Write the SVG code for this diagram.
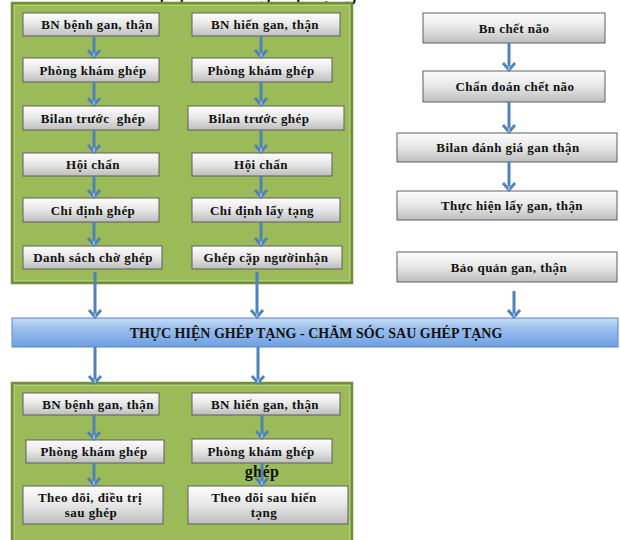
<svg xmlns="http://www.w3.org/2000/svg" width="620" height="540" viewBox="0 0 620 540">
<style>
.panel{fill:#9bbb59;stroke:#718c3a;stroke-width:2.5}
.pin{fill:none;stroke:#b3cc7c;stroke-width:1}
.box{fill:url(#gb);stroke:#5e5e5e;stroke-width:1}
.t{font-family:"Liberation Serif","Times New Roman",serif;font-weight:bold;font-size:13px;letter-spacing:0.45px;fill:#111;text-anchor:middle}
.bt{font-family:"Liberation Serif","Times New Roman",serif;font-weight:bold;font-size:14px;fill:#111;text-anchor:middle}
.ttl{font-family:"Liberation Sans",Arial,sans-serif;font-size:22px;fill:#000}
.c{fill:none;stroke:#4f81bd;stroke-width:3;marker-end:url(#ah)}
</style>
<defs>
<linearGradient id="gb" x1="0" y1="0" x2="0" y2="1">
<stop offset="0" stop-color="#fdfdfd"/>
<stop offset="0.5" stop-color="#e6e6e6"/>
<stop offset="1" stop-color="#bdbdbd"/>
</linearGradient>
<linearGradient id="bar" x1="0" y1="0" x2="0" y2="1">
<stop offset="0" stop-color="#c6dbf5"/>
<stop offset="0.35" stop-color="#9cc0ee"/>
<stop offset="1" stop-color="#6e9fe2"/>
</linearGradient>
<marker id="ah" viewBox="-10 -8 12 16" markerWidth="12" markerHeight="16" refX="0" refY="0" orient="auto" markerUnits="userSpaceOnUse">
<path d="M-7,-6 L0,0 L-7,6" fill="none" stroke="#4f81bd" stroke-width="2.8" stroke-linejoin="miter"/>
<path d="M-4,0 L0,0" stroke="#a9c4e6" stroke-width="1.5"/>
</marker>
</defs>
<rect width="620" height="540" fill="#ffffff"/>
<text class="ttl" y="0"><tspan x="152">quy trình</tspan><tspan x="259">ghép tạng</tspan></text>

<g id="panel-top">
<rect class="panel" x="12" y="3" width="340" height="280"/>
<rect class="pin" x="14.5" y="5.5" width="335" height="275"/>
</g>
<g id="panel-bottom">
<rect class="panel" x="12" y="383" width="340" height="170"/>
<rect class="pin" x="14.5" y="385.5" width="335" height="170"/>
</g>

<g id="n-l1"><rect class="box" x="23" y="13" width="136" height="23"/><text class="t" x="97" y="29">BN bệnh gan, thận</text></g>
<g id="n-l2"><rect class="box" x="23" y="58" width="136" height="24"/><text class="t" x="93" y="74.5">Phòng khám ghép</text></g>
<g id="n-l3"><rect class="box" x="23" y="106" width="136" height="24"/><text class="t" x="93" y="122.5">Bilan trước&#160; ghép</text></g>
<g id="n-l4"><rect class="box" x="23" y="153" width="136" height="23"/><text class="t" x="93" y="169">Hội chẩn</text></g>
<g id="n-l5"><rect class="box" x="23" y="198" width="136" height="24"/><text class="t" x="93" y="214.5">Chỉ định ghép</text></g>
<g id="n-l6"><rect class="box" x="23" y="246" width="139" height="23"/><text class="t" x="93" y="262">Danh sách chờ ghép</text></g>

<g id="n-r1"><rect class="box" x="192" y="13" width="148" height="23"/><text class="t" x="265" y="29">BN hiến gan, thận</text></g>
<g id="n-r2"><rect class="box" x="192" y="58" width="140" height="24"/><text class="t" x="261" y="74.5">Phòng khám ghép</text></g>
<g id="n-r3"><rect class="box" x="188" y="106" width="156" height="24"/><text class="t" x="259" y="122.5">Bilan trước ghép</text></g>
<g id="n-r4"><rect class="box" x="192" y="153" width="140" height="23"/><text class="t" x="261" y="169">Hội chẩn</text></g>
<g id="n-r5"><rect class="box" x="192" y="198" width="148" height="24"/><text class="t" x="262" y="214.5">Chỉ định lấy tạng</text></g>
<g id="n-r6"><rect class="box" x="192" y="246" width="150" height="23"/><text class="t" x="266" y="262">Ghép cặp ngườinhận</text></g>

<g id="n-d1"><rect class="box" x="423" y="13" width="182" height="30"/><text class="t" x="514" y="32.5">Bn chết não</text></g>
<g id="n-d2"><rect class="box" x="423" y="71" width="182" height="31"/><text class="t" x="515" y="91">Chẩn đoán chết não</text></g>
<g id="n-d3"><rect class="box" x="397" y="133" width="220" height="29"/><text class="t" x="508" y="152">Bilan đánh giá gan thận</text></g>
<g id="n-d4"><rect class="box" x="397" y="191" width="220" height="29"/><text class="t" x="512" y="210">Thực hiện lấy gan, thận</text></g>
<g id="n-d5"><rect class="box" x="397" y="252" width="220" height="30"/><text class="t" x="509" y="271.5">Bảo quản gan, thận</text></g>

<g id="n-bar">
<rect x="12" y="318" width="606" height="29" fill="url(#bar)" stroke="#5a87c5" stroke-width="1"/>
<text class="bt" x="316" y="338">THỰC HIỆN GHÉP TẠNG - CHĂM SÓC SAU GHÉP TẠNG</text>
</g>

<g id="n-b1"><rect class="box" x="23" y="393" width="136" height="22"/><text class="t" x="98" y="408.5">BN bệnh gan, thận</text></g>
<g id="n-b2"><rect class="box" x="26" y="440" width="138" height="23"/><text class="t" x="94" y="456">Phòng khám ghép</text></g>
<g id="n-b3"><rect class="box" x="23" y="486" width="140" height="38"/><text class="t" x="90" y="502">Theo dõi, điều trị</text><text class="t" x="91" y="517">sau ghép</text></g>
<g id="n-b4"><rect class="box" x="192" y="393" width="148" height="22"/><text class="t" x="265" y="408.5">BN hiến gan, thận</text></g>
<g id="n-b5"><rect class="box" x="192" y="439" width="140" height="24"/><text class="t" x="261" y="455.5">Phòng khám ghép</text><text class="t" x="262" y="477" style="font-size:16px">ghép</text></g>
<g id="n-b6"><rect class="box" x="188" y="486" width="160" height="38"/><text class="t" x="264" y="502">Theo dõi sau hiến</text><text class="t" x="264" y="517">tạng</text></g>

<g id="connectors">
<line class="c" x1="94" y1="36" x2="94" y2="57"/>
<line class="c" x1="94" y1="82" x2="94" y2="105"/>
<line class="c" x1="94" y1="130" x2="94" y2="152"/>
<line class="c" x1="94" y1="176" x2="94" y2="197"/>
<line class="c" x1="94" y1="222" x2="94" y2="245"/>
<line class="c" x1="261" y1="36" x2="261" y2="57"/>
<line class="c" x1="261" y1="82" x2="261" y2="105"/>
<line class="c" x1="261" y1="130" x2="261" y2="152"/>
<line class="c" x1="261" y1="176" x2="261" y2="197"/>
<line class="c" x1="261" y1="222" x2="261" y2="245"/>
<line class="c" x1="509" y1="43" x2="509" y2="70"/>
<line class="c" x1="509" y1="102" x2="509" y2="132"/>
<line class="c" x1="509" y1="162" x2="509" y2="190"/>
<line class="c" x1="95" y1="272" x2="95" y2="317"/>
<line class="c" x1="257" y1="272" x2="257" y2="317"/>
<line class="c" x1="514" y1="291" x2="514" y2="317"/>
<line class="c" x1="95" y1="347" x2="95" y2="383"/>
<line class="c" x1="258" y1="347" x2="258" y2="383"/>
<line class="c" x1="94" y1="415" x2="94" y2="439"/>
<line class="c" x1="94" y1="463" x2="94" y2="485"/>
<line class="c" x1="262" y1="415" x2="262" y2="438"/>
<line class="c" x1="262" y1="463" x2="262" y2="485"/>
</g>
</svg>
